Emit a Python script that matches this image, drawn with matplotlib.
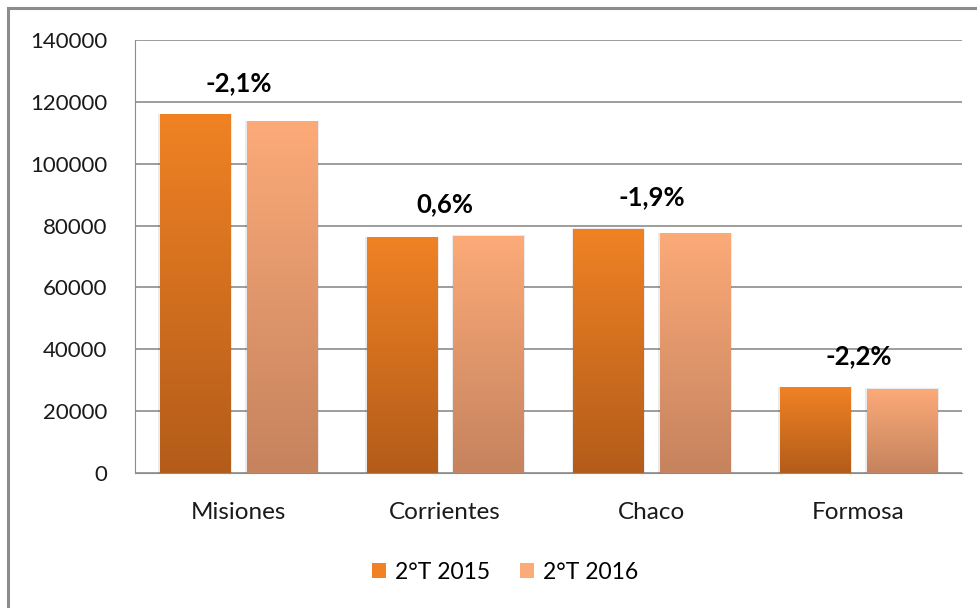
import matplotlib.pyplot as plt
import numpy as np
from matplotlib.colors import LinearSegmentedColormap
from matplotlib.patches import Rectangle

plt.rcParams['font.family'] = ['Lato', 'DejaVu Sans']

provinces = ["Misiones", "Corrientes", "Chaco", "Formosa"]
series_names = ["2°T 2015", "2°T 2016"]
values_2015 = [115800, 76000, 78900, 27500]
values_2016 = [113600, 76600, 77300, 27100]
changes = ["-2,1%", "0,6%", "-1,9%", "-2,2%"]
yticks = [0, 20000, 40000, 60000, 80000, 100000, 120000, 140000]

# gradient (top colour, bottom colour) per series
grad_colors = [("#F08224", "#B35C1A"), ("#FCAA78", "#C5835E")]

fig = plt.figure(figsize=(9.77, 6.08), dpi=100)
ax = fig.add_axes([0.1382, 0.222, 0.8464, 0.712])

# outer chart frame
fig.patches.append(Rectangle((8 / 977, -0.1), 1.2, 1 - 8 / 608 + 0.1,
                             transform=fig.transFigure, fill=False,
                             edgecolor="#8c8c8c", linewidth=2.2))

x = np.arange(len(provinces))
width = 0.34
offsets = [-0.21, 0.21]
grad = np.linspace(1, 0, 256).reshape(-1, 1)

for vals, off, (top, bottom), name in zip([values_2015, values_2016], offsets,
                                          grad_colors, series_names):
    cmap = LinearSegmentedColormap.from_list(name, [bottom, top])
    bars = ax.bar(x + off, vals, width, color=top, label=name, zorder=2,
                  edgecolor="none")
    for b in bars:
        x0, w, h = b.get_x(), b.get_width(), b.get_height()
        # soft shadow
        ax.add_patch(Rectangle((x0 - 0.008, 0), w + 0.016, h + 400,
                               facecolor="#000000", alpha=0.08,
                               edgecolor="none", zorder=1.9))
        ax.imshow(grad, cmap=cmap, extent=[x0, x0 + w, 0, h], aspect="auto",
                  zorder=2.1, interpolation="bicubic")

for i, lab in enumerate(changes):
    top = max(values_2015[i], values_2016[i])
    ax.annotate(lab, (x[i], top), xytext=(0, 23), textcoords="offset points",
                ha="center", va="center", fontsize=18.5, fontweight="bold",
                color="black")

ax.set_xlim(-0.5, len(provinces) - 0.5)
ax.set_ylim(0, 140000)
ax.set_yticks(yticks)
ax.set_yticklabels([str(t) for t in yticks], fontsize=16)
ax.set_xticks(x)
ax.set_xticklabels(provinces, fontsize=17.5)
ax.yaxis.grid(True, color="#8c8c8c", linewidth=1.2, zorder=0)
ax.set_axisbelow(True)
for s in ["top", "right"]:
    ax.spines[s].set_visible(False)
ax.spines["left"].set_color("#8c8c8c")
ax.spines["bottom"].set_color("#8c8c8c")
ax.tick_params(axis="x", length=0, pad=21, colors="#1a1a1a")
ax.tick_params(axis="y", length=0, pad=20, colors="#1a1a1a")

handles = [Rectangle((0, 0), 1, 1, facecolor=c[0]) for c in grad_colors]
fig.legend(handles, series_names, loc="center", bbox_to_anchor=(0.517, 0.059),
           ncol=2, frameon=False, fontsize=16.5, handlelength=0.6,
           handleheight=0.6, handletextpad=0.4, columnspacing=1.3)

fig.savefig("out.png", dpi=100)
